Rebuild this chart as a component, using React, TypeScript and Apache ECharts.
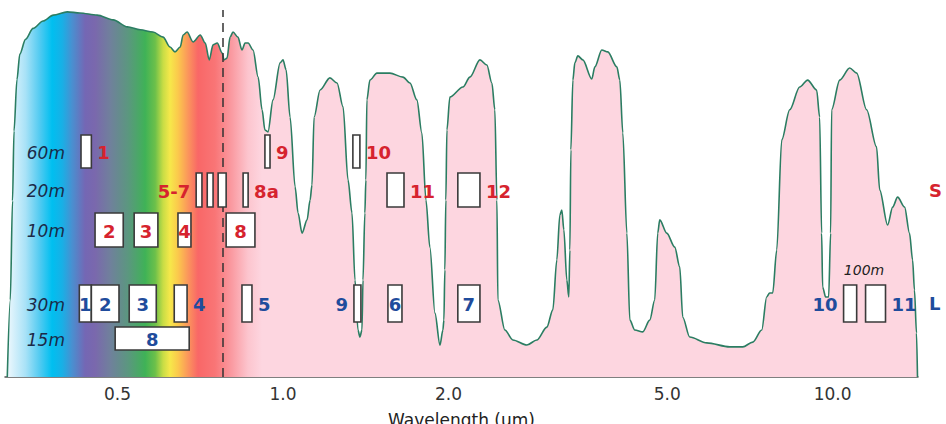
import React, { useEffect, useRef } from 'react';
import * as echarts from 'echarts';

// Atmospheric transmission curve: wavelength (µm) and transmission (%)
const wavelengthUm = [
  0.315, 0.319, 0.322, 0.324, 0.328, 0.332, 0.340, 0.351, 0.366, 0.382,
  0.405, 0.427, 0.459, 0.491, 0.521, 0.550, 0.580, 0.605, 0.623, 0.636,
  0.650, 0.658, 0.669, 0.686, 0.707, 0.722, 0.734, 0.746, 0.759, 0.775,
  0.781, 0.791, 0.801, 0.811, 0.828, 0.842, 0.853, 0.864, 0.882, 0.901,
  0.916, 0.927, 0.939, 0.959, 0.988, 1.000, 1.013, 1.030, 1.052, 1.065,
  1.083, 1.106, 1.120, 1.129, 1.139, 1.168, 1.217, 1.254, 1.286, 1.313,
  1.335, 1.352, 1.369, 1.380, 1.392, 1.398, 1.409, 1.415, 1.421, 1.439,
  1.482, 1.565, 1.653, 1.702, 1.752, 1.789, 1.820, 1.850, 1.890, 1.930,
  1.954, 1.962, 1.970, 1.978, 1.987, 2.012, 2.125, 2.188, 2.282, 2.349,
  2.399, 2.429, 2.450, 2.460, 2.533, 2.619, 2.778, 2.896, 3.020, 3.097,
  3.149, 3.189, 3.216, 3.243, 3.284, 3.311, 3.326, 3.340, 3.368, 3.396,
  3.439, 3.512, 3.646, 3.693, 3.802, 3.899, 4.049, 4.100, 4.152, 4.223,
  4.276, 4.365, 4.514, 4.648, 4.746, 4.806, 4.847, 4.991, 5.161, 5.270,
  5.337, 5.495, 5.902, 6.498, 6.863, 7.156, 7.431, 7.586, 7.682, 7.780,
  7.912, 8.080, 8.354, 8.710, 9.006, 9.352, 9.471, 9.550, 9.590, 9.712,
  9.834, 9.917, 9.958, 10.30, 10.74, 11.06, 11.53, 12.02, 12.18, 12.59,
  12.86, 13.13, 13.52, 13.80, 13.98, 14.09, 14.21, 14.27,
];
const transmissionPct = [
  0, 21, 48, 67, 81, 88, 92, 95, 97, 98.6,
  99.5, 99.2, 98.6, 97.3, 95.4, 94.6, 94.0, 92.6, 89.9, 88.6,
  89.9, 93.2, 94.0, 91.3, 93.2, 91.0, 86.4, 90.5, 91.0, 88.3,
  86.4, 86.9, 92.6, 94.0, 92.6, 89.1, 91.0, 91.0, 89.1, 81.7,
  72.8, 67.3, 66.8, 75.5, 85.6, 86.4, 83.7, 70.8, 51.8, 44.7,
  39.2, 42.8, 48.2, 52.3, 70.8, 78.2, 81.5, 80.1, 73.6, 53.7,
  44.7, 26.4, 12.8, 10.9, 12.8, 26.4, 44.7, 53.7, 75.5, 80.9,
  82.8, 82.8, 81.7, 80.1, 75.5, 66.5, 48.2, 35.4, 17.4, 8.7,
  12.8, 15.5, 29.2, 48.2, 67.3, 76.3, 79.0, 81.7, 86.4, 85.0,
  80.1, 72.8, 48.2, 21.0, 12.8, 10.1, 8.7, 10.1, 13.6, 18.3,
  31.9, 44.1, 45.5, 40.1, 26.4, 21.8, 34.6, 61.9, 80.9, 85.6,
  87.5, 86.4, 81.2, 84.5, 89.1, 88.6, 84.5, 80.9, 66.5, 39.2,
  15.5, 12.8, 12.3, 15.5, 21.0, 39.2, 42.8, 39.2, 35.4, 30.0,
  16.3, 10.9, 9.3, 8.2, 8.2, 9.5, 12.8, 21.8, 22.9, 22.9,
  34.6, 64.6, 72.8, 79.0, 80.9, 78.2, 70.8, 39.2, 24.5, 21.8,
  21.8, 39.2, 72.8, 80.9, 84.2, 82.8, 72.8, 62.7, 51.0, 41.4,
  46.3, 49.0, 46.3, 39.2, 31.9, 23.7, 12.0, 0,
];

// Sentinel-2 bands (S)
const s2Names = ['1', '2', '3', '4', '5', '6', '7', '8', '8a', '9', '10', '11', '12'];
const s2StartUm = [0.429, 0.455, 0.536, 0.644, 0.695, 0.728, 0.762, 0.788, 0.846, 0.927, 1.340, 1.546, 2.080];
const s2EndUm = [0.448, 0.512, 0.592, 0.680, 0.712, 0.746, 0.788, 0.889, 0.864, 0.947, 1.380, 1.660, 2.282];
const s2Res = ['60m', '10m', '10m', '10m', '20m', '20m', '20m', '10m', '20m', '60m', '60m', '20m', '20m'];

// Landsat 8 bands (L)
const l8Names = ['1', '2', '3', '4', '5', '6', '7', '8', '9', '10', '11'];
const l8StartUm = [0.426, 0.448, 0.525, 0.634, 0.842, 1.552, 2.080, 0.495, 1.346, 10.47, 11.48];
const l8EndUm = [0.448, 0.503, 0.588, 0.669, 0.878, 1.646, 2.282, 0.675, 1.386, 11.06, 12.48];
const l8Res = ['30m', '30m', '30m', '30m', '30m', '30m', '30m', '15m', '30m', '100m', '100m'];

// Axis ticks
const tickLabelUm = [0.5, 1, 2, 5, 10];
const minorTickUm = [0.4, 0.5, 0.6, 0.7, 0.8, 0.9, 2, 4, 5, 6, 7, 8, 9];
const decadeTickUm = [1, 10];
const axisRangeUm = [0.312, 14.3];
const visNirBoundaryUm = 0.775;

// ---- layout / styling ----
const RED = '#d6232e';
const BLUE = '#1f4c9c';
const GRID = { left: 5, right: 28, top: 10, bottom: 47 };
// row extents in px below the plot top (hidden y-axis units)
const ROWS: Record<string, [number, number]> = {
  '60m': [125, 158],
  '20m': [163, 197],
  '10m': [203, 237],
  '30m': [275, 312],
  '100m': [275, 312],
  '15m': [317, 340],
};
const s2Place: Record<string, string> = {
  '1': 'right', '2': 'in', '3': 'in', '4': 'in', '5': 'left', '6': 'none', '7': 'none',
  '8': 'in', '8a': 'right', '9': 'right', '10': 'right', '11': 'right', '12': 'right',
};
const s2Text: Record<string, string> = { '5': '5-7' };
const l8Place: Record<string, string> = {
  '1': 'in', '2': 'in', '3': 'in', '4': 'right', '5': 'right', '6': 'in', '7': 'in',
  '8': 'in', '9': 'left', '10': 'left', '11': 'right',
};
const spectrumStops: [number, string][] = [
  [0.315, '#eef8fd'],
  [0.340, '#a9e2f7'],
  [0.3615, '#4fcaf1'],
  [0.380, '#00bff0'],
  [0.3965, '#18b0e6'],
  [0.4135, '#4a8fd0'],
  [0.4365, '#7467b4'],
  [0.455, '#7a68ad'],
  [0.4846, '#70809c'],
  [0.5226, '#5b977f'],
  [0.5613, '#3fb257'],
  [0.5853, '#6cc04a'],
  [0.605, '#c8dd45'],
  [0.623, '#f6e84a'],
  [0.644, '#fbc94c'],
  [0.672, '#fb955c'],
  [0.7006, '#f96767'],
  [0.752, '#f97576'],
  [0.8077, '#fa9ba2'],
  [0.864, '#fcc5ce'],
  [0.916, '#fdd6e0'],
  [14.27, '#fdd6e0'],
];

export default function App() {
  const ref = useRef<HTMLDivElement>(null);

  useEffect(() => {
    const chart = echarts.init(ref.current as HTMLDivElement, null, { renderer: 'svg' });
    const lx = (u: number) => Math.log10(u);

    const curve = wavelengthUm.map((w, i) => [lx(w), transmissionPct[i]]);
    const l0 = lx(wavelengthUm[0]);
    const l1 = lx(wavelengthUm[wavelengthUm.length - 1]);
    const gradient = new echarts.graphic.LinearGradient(
      0, 0, 1, 0,
      spectrumStops.map(([w, c]) => ({
        offset: Math.min(1, Math.max(0, (lx(w) - l0) / (l1 - l0))),
        color: c,
      })),
    );

    type Box = { start: number; end: number; res: string; text: string; side: string; color: string };
    const boxes: Box[] = [];
    s2Names.forEach((n, i) =>
      boxes.push({
        start: s2StartUm[i], end: s2EndUm[i], res: s2Res[i],
        text: s2Text[n] ?? n, side: s2Place[n], color: RED,
      }),
    );
    l8Names.forEach((n, i) =>
      boxes.push({
        start: l8StartUm[i], end: l8EndUm[i], res: l8Res[i],
        text: n, side: l8Place[n], color: BLUE,
      }),
    );
    const boxData = boxes.map((b) => [lx(b.start), lx(b.end), ROWS[b.res][0], ROWS[b.res][1]]);

    const font = 'bold 18px "DejaVu Sans"';
    const GAP = 6;

    const renderBox = (params: any, api: any) => {
      const p0 = api.coord([api.value(0), api.value(2)]);
      const p1 = api.coord([api.value(1), api.value(3)]);
      return {
        type: 'rect',
        shape: { x: p0[0], y: p0[1], width: p1[0] - p0[0], height: p1[1] - p0[1] },
        style: { fill: '#ffffff', stroke: '#3a3a3a', lineWidth: 1.6 },
      };
    };
    const renderLabel = (params: any, api: any) => {
      const b = boxes[params.dataIndex];
      if (b.side === 'none') return { type: 'group', children: [] };
      const p0 = api.coord([api.value(0), api.value(2)]);
      const p1 = api.coord([api.value(1), api.value(3)]);
      const cy = (p0[1] + p1[1]) / 2 + 1;
      let x = (p0[0] + p1[0]) / 2;
      let align = 'center';
      if (b.side === 'right') { x = p1[0] + GAP; align = 'left'; }
      if (b.side === 'left') { x = p0[0] - GAP; align = 'right'; }
      return {
        type: 'text',
        x,
        y: cy,
        style: { text: b.text, fill: b.color, font, align, verticalAlign: 'middle' },
      };
    };

    const rowLabels = ['60m', '20m', '10m', '30m', '15m'];
    const graphic: any[] = rowLabels.map((r) => ({
      type: 'text',
      z: 100,
      x: 65,
      y: GRID.top + (ROWS[r][0] + ROWS[r][1]) / 2 + 1,
      style: {
        text: r, fill: '#1b2a48', font: 'italic 17px "DejaVu Sans"',
        textAlign: 'right', textVerticalAlign: 'middle', align: 'right', verticalAlign: 'middle',
      },
    }));
    graphic.push({
      type: 'text', z: 100, x: 864, y: 270,
      style: {
        text: '100m', fill: '#222222', font: 'italic 14px "DejaVu Sans"',
        textAlign: 'center', textVerticalAlign: 'middle', align: 'center', verticalAlign: 'middle',
      },
    });
    graphic.push({
      type: 'text', z: 100, x: 929, y: 190,
      style: {
        text: 'S', fill: RED, font,
        textAlign: 'left', textVerticalAlign: 'middle', align: 'left', verticalAlign: 'middle',
      },
    });
    graphic.push({
      type: 'text', z: 100, x: 929, y: 303,
      style: {
        text: 'L', fill: BLUE, font,
        textAlign: 'left', textVerticalAlign: 'middle', align: 'left', verticalAlign: 'middle',
      },
    });

    const xMin = lx(axisRangeUm[0]);
    const xMax = lx(axisRangeUm[1]);

    chart.setOption({
      animation: false,
      textStyle: { fontFamily: '"DejaVu Sans", sans-serif' },
      grid: { ...GRID, containLabel: false, outerBoundsMode: 'none' },
      xAxis: [
        {
          type: 'value',
          min: xMin,
          max: xMax,
          position: 'bottom',
          splitLine: { show: false },
          axisLine: { show: true, onZero: false, lineStyle: { color: '#555555', width: 1.5 } },
          axisTick: {
            show: true, inside: true, length: 5,
            customValues: minorTickUm.map(lx),
            lineStyle: { color: '#444444', width: 1.3 },
          },
          axisLabel: {
            show: true,
            customValues: tickLabelUm.map(lx),
            formatter: (v: number) => Math.pow(10, v).toFixed(1),
            fontSize: 17,
            color: '#333333',
            margin: 8,
            fontFamily: '"DejaVu Sans"',
          },
          name: 'Wavelength (um)',
          nameLocation: 'middle',
          nameGap: 34,
          nameTextStyle: { fontSize: 17, color: '#222222', fontFamily: '"DejaVu Sans"' },
        },
        {
          type: 'value',
          min: xMin,
          max: xMax,
          position: 'bottom',
          splitLine: { show: false },
          axisLine: { show: false, onZero: false },
          axisLabel: { show: false },
          axisTick: {
            show: true, inside: true, length: 12,
            customValues: decadeTickUm.map(lx),
            lineStyle: { color: '#444444', width: 1.5 },
          },
        },
      ],
      yAxis: [
        { type: 'value', min: 0, max: 100, show: false },
        { type: 'value', min: 0, max: 367, inverse: true, show: false },
      ],
      series: [
        {
          type: 'line',
          data: curve,
          xAxisIndex: 0,
          yAxisIndex: 0,
          symbol: 'none',
          showSymbol: false,
          smooth: 0.3,
          smoothMonotone: 'x',
          lineStyle: { color: '#2b7d62', width: 1.6 },
          areaStyle: { color: gradient, opacity: 1 },
          z: 2,
          silent: true,
          markLine: {
            silent: true,
            symbol: ['none', 'none'],
            label: { show: false },
            lineStyle: { color: '#333333', type: [9, 6], width: 1.5 },
            data: [{ xAxis: lx(visNirBoundaryUm) }],
          },
        },
        {
          type: 'custom',
          xAxisIndex: 0,
          yAxisIndex: 1,
          data: boxData,
          renderItem: renderBox,
          z: 5,
          silent: true,
        },
        {
          type: 'custom',
          xAxisIndex: 0,
          yAxisIndex: 1,
          data: boxData,
          renderItem: renderLabel,
          z: 6,
          silent: true,
        },
      ],
      graphic,
    });

    return () => {
      chart.dispose();
    };
  }, []);

  return (
    <div
      ref={ref}
      style={{ position: 'absolute', left: 0, top: 0, width: 946, height: 424, background: '#ffffff' }}
    />
  );
}
